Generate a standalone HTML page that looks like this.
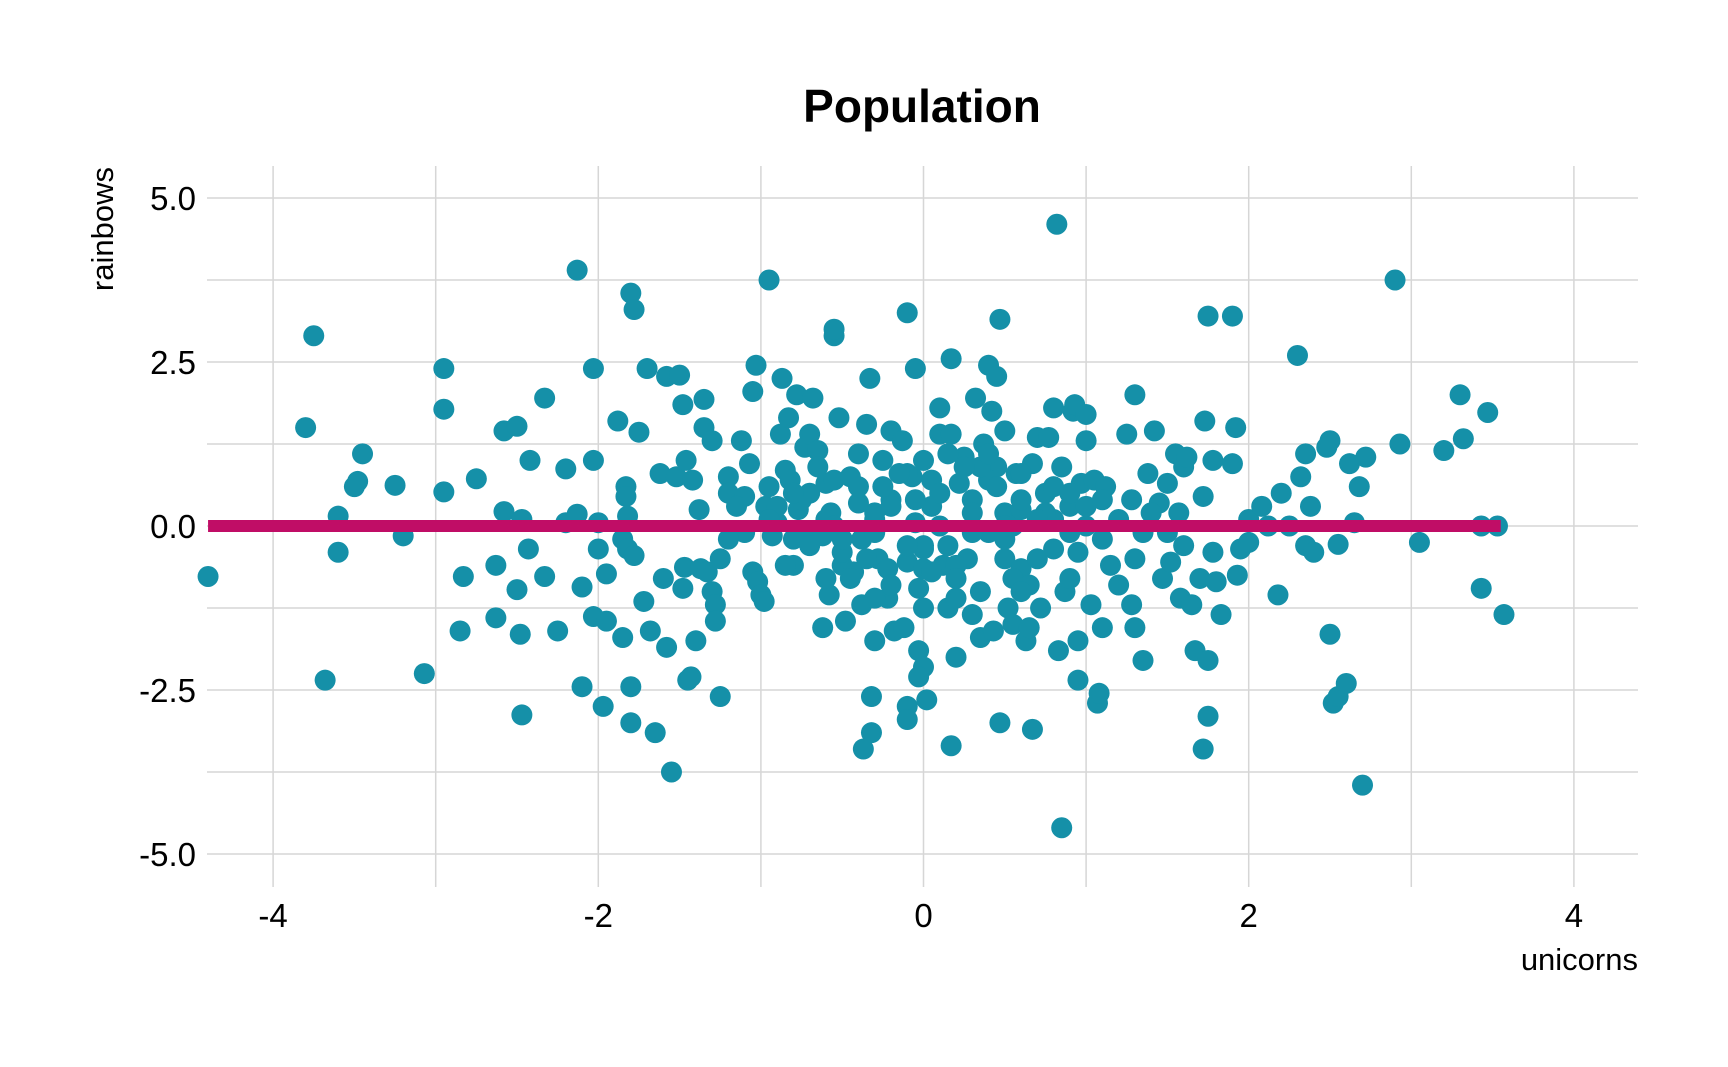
<!DOCTYPE html>
<html><head><meta charset="utf-8"><style>
html,body{margin:0;padding:0;background:#fff;}
svg{display:block;font-family:"Liberation Sans",sans-serif;}
</style></head><body>
<svg id="chart" width="1728" height="1067" viewBox="0 0 1728 1067">
<text x="922" y="122" text-anchor="middle" font-size="46" font-weight="bold">Population</text>
<g id="grid"></g>
<g id="axes"></g>
<g id="points"></g>
<g id="line"></g>
<text x="1638" y="970" text-anchor="end" font-size="31">unicorns</text>
<text transform="translate(113,167) rotate(-90)" text-anchor="end" font-size="31">rainbows</text>
</svg>
<script>
const xTicks = [-4,-2,0,2,4];
const xTickLabels = ["-4","-2","0","2","4"];
const xMinor = [-3,-1,1,3];
const yTicks = [5,2.5,0,-2.5,-5];
const yTickLabels = ["5.0","2.5","0.0","-2.5","-5.0"];
const yMinor = [3.75,1.25,-1.25,-3.75];
const lineX = [-4.4,3.55];
const lineY = [0,0];
const xValues = [-4.4,-3.75,-3.8,-3.68,-3.6,-3.6,-3.5,-3.48,-3.45,-3.25,-3.2,-3.07,-2.95,-2.95,-2.95,-2.83,-2.85,-2.75,-2.63,-2.63,-2.58,-2.58,-2.5,-2.5,-2.48,-2.47,-2.47,-2.43,-2.42,-2.33,-2.33,-2.25,-2.2,-2.2,-2.13,-2.13,-2.1,-2.1,-2.03,-2.03,-2.03,-2.0,-2.0,-1.97,-1.95,-1.95,-1.88,-1.85,-1.85,-1.83,-1.83,-1.82,-1.82,-1.8,-1.8,-1.8,-1.78,-1.78,-1.75,-1.72,-1.7,-1.68,-1.65,-1.62,-1.6,-1.58,-1.58,-1.55,-1.52,-1.5,-1.48,-1.48,-1.47,-1.46,-1.45,-1.43,-1.42,-1.4,-1.38,-1.37,-1.35,-1.35,-1.33,-1.3,-1.3,-1.28,-1.28,-1.25,-1.25,-1.2,-1.2,-1.12,-1.1,-1.1,-1.07,-1.05,-1.05,-1.03,-1.02,-1.0,-0.98,-0.97,-0.95,-0.93,-0.9,-0.88,-0.87,-0.85,-0.83,-0.82,-0.8,-0.78,-0.77,-0.73,-0.72,-0.7,-0.68,-0.65,-0.62,-0.6,-0.58,-0.57,-0.55,-0.52,-0.5,-0.48,-0.45,-0.43,-0.4,-0.38,-0.35,-0.33,-0.32,-0.32,-0.3,-0.3,-0.28,-0.25,-0.22,-0.22,-0.2,-0.2,-0.18,-0.37,-0.55,-0.55,-0.62,-0.1,-0.13,-0.12,-0.1,-0.38,-0.07,-0.05,-0.05,-0.03,-0.03,0.0,0.0,0.17,0.0,-0.03,-0.1,-0.1,0.02,0.0,0.05,0.05,0.1,0.1,0.12,0.15,0.17,0.17,0.2,0.2,0.22,0.25,0.27,0.3,0.3,0.32,0.35,0.37,0.4,0.4,0.42,0.43,0.45,0.45,0.47,0.47,0.5,0.5,0.5,0.52,0.55,0.55,0.57,0.6,0.6,0.63,0.65,0.67,0.67,0.7,0.72,0.75,0.77,0.8,0.8,0.8,0.82,0.83,0.85,0.87,0.9,0.9,0.92,0.93,0.95,0.95,0.97,1.0,1.0,1.0,1.03,1.05,1.07,1.08,1.1,1.1,1.12,1.15,1.2,1.25,1.28,1.28,1.3,1.3,1.3,1.35,1.38,1.42,1.45,1.47,1.5,1.52,1.55,1.57,1.58,1.6,1.62,1.65,1.67,1.7,1.72,1.72,1.73,1.75,1.75,1.75,1.78,1.78,1.8,1.83,1.9,1.9,1.92,1.93,1.95,2.0,2.0,2.08,2.12,2.18,2.2,2.25,2.3,2.32,2.35,2.35,2.38,2.4,2.48,2.5,2.5,2.52,2.55,2.55,2.6,2.62,2.65,2.68,2.7,2.72,2.9,2.93,3.05,3.2,3.3,3.32,3.43,3.43,3.47,3.53,3.57,
-0.9,-0.8,-0.7,-0.6,-0.5,-0.4,-0.3,-0.2,-0.1,0.0,0.1,0.2,0.3,0.4,0.5,0.6,0.7,0.8,0.9,1.0,-0.85,-0.65,-0.45,-0.25,-0.05,0.15,0.35,0.55,0.75,0.95,-0.75,-0.55,-0.35,-0.15,0.05,0.25,0.45,0.65,0.85,-0.95,-0.7,-0.5,-0.3,-0.1,0.1,0.3,0.5,0.7,0.9,1.1,-0.6,-0.4,-0.2,0.0,0.2,0.4,0.6,-0.8,-0.3,0.15,0.35,0.6,1.2,1.35,1.5,-1.15,-1.2,-0.95,1.4,1.6];
const yValues = [-0.77,2.9,1.5,-2.35,0.15,-0.4,0.6,0.68,1.1,0.62,-0.15,-2.25,2.4,1.78,0.52,-0.77,-1.6,0.72,-0.6,-1.4,1.45,0.22,-0.97,1.52,-1.65,0.1,-2.88,-0.35,1.0,-0.77,1.95,-1.6,0.87,0.05,0.18,3.9,-0.93,-2.45,2.4,1.0,-1.38,0.05,-0.35,-2.75,-0.73,-1.45,1.6,-0.2,-1.7,0.6,0.45,0.15,-0.35,-2.45,-3.0,3.55,3.3,-0.45,1.43,-1.15,2.4,-1.6,-3.15,0.8,-0.8,-1.85,2.28,-3.75,0.75,2.3,1.85,-0.95,-0.63,1.0,-2.35,-2.3,0.7,-1.75,0.25,-0.65,1.5,1.93,-0.7,1.3,-1.0,-1.2,-1.45,-0.5,-2.6,0.75,0.5,1.3,0.45,-0.1,0.95,2.05,-0.7,2.45,-0.85,-1.05,-1.15,0.3,3.75,-0.15,0.05,1.4,2.25,0.85,1.65,0.7,-0.6,2.0,0.25,1.2,-0.1,1.4,1.95,1.15,-0.15,0.65,-1.05,0.2,0.7,1.65,-0.6,-1.45,0.75,-0.7,0.35,-0.2,1.55,2.25,-2.6,-3.15,0.1,-1.75,-0.5,1.0,-1.1,-0.65,1.45,0.4,-1.6,-3.4,2.9,3.0,-1.55,-0.55,1.3,-1.55,3.25,-1.2,0.75,2.4,0.05,-0.95,-1.9,-1.25,-0.35,-3.35,-2.15,-2.3,-2.75,-2.95,-2.65,-0.65,0.7,0.3,1.8,1.4,-0.6,-1.25,2.55,1.4,-2.0,-1.1,0.65,1.05,-0.5,0.4,-1.35,1.95,-1.7,1.25,2.45,-0.1,1.75,-1.6,0.9,2.28,3.15,-3.0,-0.5,1.45,0.2,-1.25,-1.5,0.0,0.8,-0.65,0.25,-1.75,-1.55,0.95,-3.1,1.35,-1.25,0.5,1.35,1.8,-0.35,0.6,4.6,-1.9,-4.6,-1.0,0.3,-0.8,1.75,1.85,-1.75,-2.35,0.65,1.7,1.3,0.0,-1.2,0.7,-2.7,-2.55,-1.55,-0.2,0.6,-0.6,-0.9,1.4,0.4,-1.2,2.0,-1.55,-0.5,-2.05,0.8,1.45,0.35,-0.8,0.65,-0.55,1.1,0.2,-1.1,0.9,1.05,-1.2,-1.9,-0.8,-3.4,0.45,1.6,-2.05,-2.9,3.2,1.0,-0.4,-0.85,-1.35,3.2,0.95,1.5,-0.75,-0.35,0.1,-0.25,0.3,0.0,-1.05,0.5,0.0,2.6,0.75,1.1,-0.3,0.3,-0.4,1.2,1.3,-1.65,-2.7,-2.6,-0.28,-2.4,0.95,0.05,0.6,-3.95,1.05,3.75,1.25,-0.25,1.15,2.0,1.33,-0.95,0.0,1.73,0.0,-1.35,
0.3,-0.2,0.5,0.1,-0.4,0.6,-0.1,0.3,0.8,-0.3,0.5,-0.6,0.2,0.7,-0.2,0.4,-0.5,0.1,0.5,0.3,-0.6,0.9,-0.8,0.6,0.4,-0.3,0.9,-0.8,0.2,-0.4,0.4,0.0,-0.5,0.8,-0.7,0.9,0.6,-0.9,0.9,0.6,-0.3,-0.2,0.2,-0.3,0.0,-0.1,0.0,0.1,-0.1,0.4,-0.8,1.1,-0.9,1.0,-0.8,1.1,-1.0,0.5,-1.1,1.1,-1.0,0.8,0.1,-0.1,-0.1,0.3,-0.2,0.1,0.2,-0.3];
const X0=207,X1=1638,Y0=166,Y1=887;
function xs(v){return 923.5+v*162.6;}
function ys(v){return 526-v*65.6;}
const NS="http://www.w3.org/2000/svg";
function mk(tag,attrs,parent){const e=document.createElementNS(NS,tag);for(const k in attrs)e.setAttribute(k,attrs[k]);parent.appendChild(e);return e;}
const grid=document.getElementById('grid'),axes=document.getElementById('axes'),pts=document.getElementById('points'),ln=document.getElementById('line');
xMinor.concat(xTicks).forEach(v=>{const l=mk('line',{x1:xs(v),x2:xs(v),y1:Y0,y2:Y1,stroke:'#d6d6d6','stroke-width':1.5},grid);

});
yMinor.concat(yTicks).forEach(v=>{const l=mk('line',{x1:X0,x2:X1,y1:ys(v),y2:ys(v),stroke:'#d6d6d6','stroke-width':1.5},grid);

});
xTicks.forEach((v,i)=>{const t=mk('text',{x:xs(v),y:927,'text-anchor':'middle','font-size':33},axes);t.textContent=xTickLabels[i];

});
yTicks.forEach((v,i)=>{const t=mk('text',{x:196,y:ys(v)+12,'text-anchor':'end','font-size':33},axes);t.textContent=yTickLabels[i];

});
xValues.forEach((v,i)=>{const c=mk('circle',{cx:xs(v),cy:ys(yValues[i]),r:10.5,fill:'#1590a8'},pts);

});
const L=mk('line',{x1:xs(lineX[0]),x2:xs(lineX[1]),y1:ys(lineY[0]),y2:ys(lineY[1]),stroke:'#c00d66','stroke-width':12},ln);


</script>
</body></html>
